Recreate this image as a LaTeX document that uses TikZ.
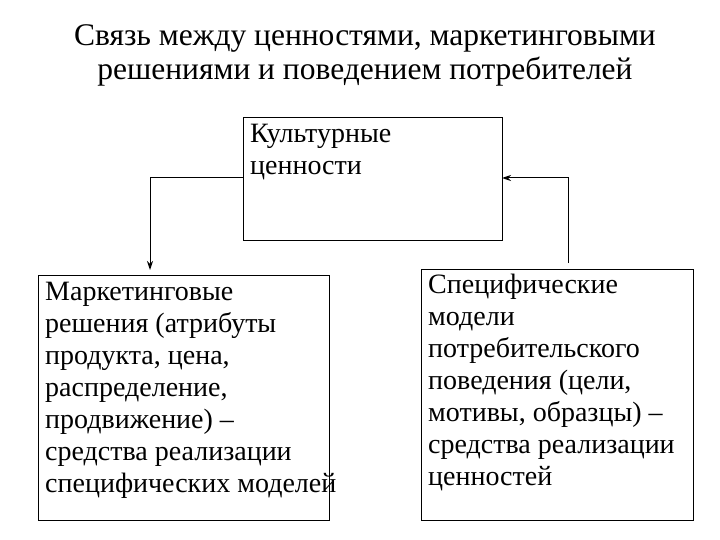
\documentclass[tikz,border=0pt]{standalone}
\usepackage{fontspec}
\usetikzlibrary{arrows.meta}
\setmainfont{Liberation Serif}
\begin{document}
\begin{tikzpicture}[x=1pt,y=-1pt,
 box/.style={draw,line width=0.9pt},
 txt/.style={anchor=north west,align=left,font=\fontsize{28}{32}\selectfont,inner sep=0pt},
 conn/.style={line width=1pt,-{Stealth[length=9pt,width=6pt]}}]
\useasboundingbox (0,0) rectangle (720,540);
\node[align=center,font=\fontsize{31.5}{34}\selectfont] (title) at (365,55) {Связь между ценностями, маркетинговыми\\решениями и поведением потребителей};
\draw[box] (243,117) rectangle (502,240);
\node[txt] (t1) at (250,124) {Культурные\\ценности};
\draw[box] (38,275) rectangle (329,520);
\node[txt] (t2) at (45,282) {Маркетинговые\\решения (атрибуты\\продукта, цена,\\распределение,\\продвижение) –\\средства реализации\\специфических моделей};
\draw[box] (421,269) rectangle (693,520);
\node[txt] (t3) at (428,274) {Специфические\\модели\\потребительского\\поведения (цели,\\мотивы, образцы) –\\средства реализации\\ценностей};
\coordinate (a) at (243,178);
\coordinate (b) at (150,270);
\coordinate (c) at (568,263);
\coordinate (d) at (502,178);
\draw[conn] (a) -- (150,178) -- (b);
\draw[conn] (c) -- (568,178) -- (d);
\end{tikzpicture}
\end{document}
